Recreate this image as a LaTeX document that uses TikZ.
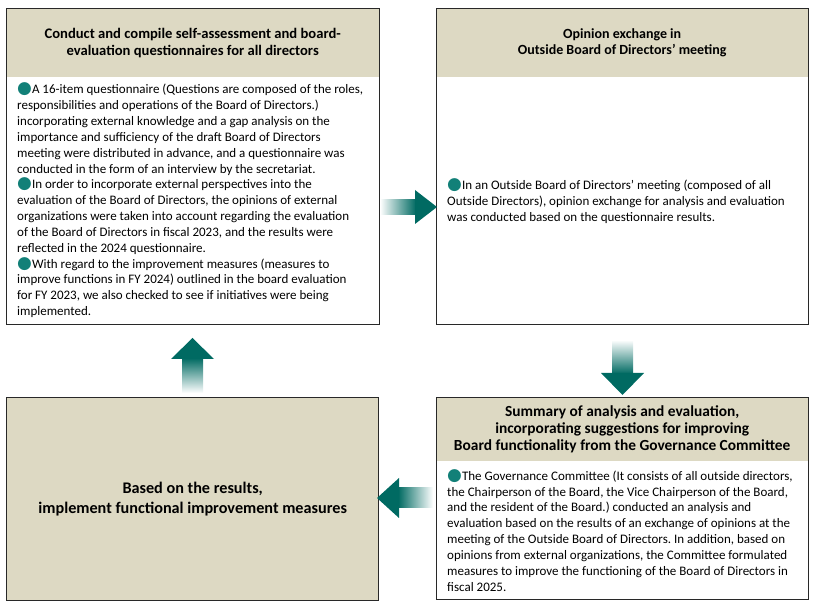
\documentclass[tikz,border=0pt]{standalone}
\usepackage{fontspec}
\setmainfont{Carlito}
\newfontfamily\dejavu{DejaVu Sans}
\frenchspacing
\definecolor{hdr}{RGB}{221,217,195}
\definecolor{frm}{RGB}{40,40,40}
\definecolor{arr}{RGB}{0,106,98}
\definecolor{bul}{RGB}{18,128,120}
\newcommand{\tb}{\raisebox{0pt}[0pt][0pt]{\textcolor{bul}{\dejavu\fontsize{17}{17}\selectfont ●}}}
\begin{document}
\begin{tikzpicture}[x=1pt,y=-1pt,
  frame/.style={draw=frm, line width=1.4pt, inner sep=0pt, anchor=north west},
  head/.style={fill=hdr, inner sep=0pt, anchor=north west, align=center,
    font=\bfseries\fontsize{14}{16.7}\selectfont},
  bodytext/.style={inner sep=0pt, anchor=west, align=left,
    font=\fontsize{13}{15.85}\selectfont},
  shaftshade/.style={draw=none},
  headfill/.style={fill=arr, draw=none}]
\useasboundingbox (0,0) rectangle (815,609);

% Box 1
\node[head, minimum width=373pt, minimum height=69pt,
  font=\bfseries\fontsize{14.6}{16.7}\selectfont] (h1) at (6,8)
  {Conduct and compile self-assessment and board-\\evaluation questionnaires for all directors};
\node[bodytext] (t1) at (17,201) {\tb A 16-item questionnaire (Questions are composed of the roles,\\
responsibilities and operations of the Board of Directors.)\\
incorporating external knowledge and a gap analysis on the\\
importance and sufficiency of the draft Board of Directors\\
meeting were distributed in advance, and a questionnaire was\\
conducted in the form of an interview by the secretariat.\\
\tb In order to incorporate external perspectives into the\\
evaluation of the Board of Directors, the opinions of external\\
organizations were taken into account regarding the evaluation\\
of the Board of Directors in fiscal 2023, and the results were\\
reflected in the 2024 questionnaire.\\
\tb With regard to the improvement measures (measures to\\
improve functions in FY 2024) outlined in the board evaluation\\
for FY 2023, we also checked to see if initiatives were being\\
implemented.};
\node[frame, minimum width=373pt, minimum height=316pt] (b1) at (6,8) {};

% Box 2
\node[head, minimum width=372pt, minimum height=69pt] (h2) at (436,8)
  {Opinion exchange in\\Outside Board of Directors’ meeting};
\node[bodytext] (t2) at (447,202) {\tb In an Outside Board of Directors’ meeting (composed of all\\
Outside Directors), opinion exchange for analysis and evaluation\\
was conducted based on the questionnaire results.};
\node[frame, minimum width=372pt, minimum height=316pt] (b2) at (436,8) {};

% Box 3
\node[head, minimum width=372pt, minimum height=64pt,
  font=\bfseries\fontsize{15.4}{17}\selectfont] (h3) at (436,397)
  {Summary of analysis and evaluation,\\incorporating suggestions for improving\\Board functionality from the Governance Committee};
\node[bodytext] (t3) at (447,531) {\tb The Governance Committee (It consists of all outside directors,\\
the Chairperson of the Board, the Vice Chairperson of the Board,\\
and the resident of the Board.) conducted an analysis and\\
evaluation based on the results of an exchange of opinions at the\\
meeting of the Outside Board of Directors. In addition, based on\\
opinions from external organizations, the Committee formulated\\
measures to improve the functioning of the Board of Directors in\\
fiscal 2025.};
\node[frame, minimum width=372pt, minimum height=202pt] (b3) at (436,397) {};

% Box 4
\node[frame, fill=hdr, minimum width=372pt, minimum height=203pt, align=center,
  font=\bfseries\fontsize{16.2}{20}\selectfont] (b4) at (6,397)
  {Based on the results,\\implement functional improvement measures};

% Arrows
% right (b1 -> b2)
\shade[shaftshade, left color=white, right color=arr] (380,200) rectangle (416,215);
\fill[headfill] (415,190) -- (437,207) -- (415,224) -- cycle;
% down (b2 -> b3)
\shade[shaftshade, top color=white, bottom color=arr] (612,340) rectangle (633,374);
\fill[headfill] (601,373) -- (644,373) -- (622.5,395) -- cycle;
% left (b3 -> b4)
\shade[shaftshade, left color=arr, right color=white] (398,488) rectangle (433,508);
\fill[headfill] (399,478) -- (377,498) -- (399,518) -- cycle;
% up (b4 -> b1)
\shade[shaftshade, top color=arr, bottom color=white] (182,358) rectangle (203,393);
\fill[headfill] (171,359) -- (192.5,338) -- (214,359) -- cycle;
\end{tikzpicture}
\end{document}
